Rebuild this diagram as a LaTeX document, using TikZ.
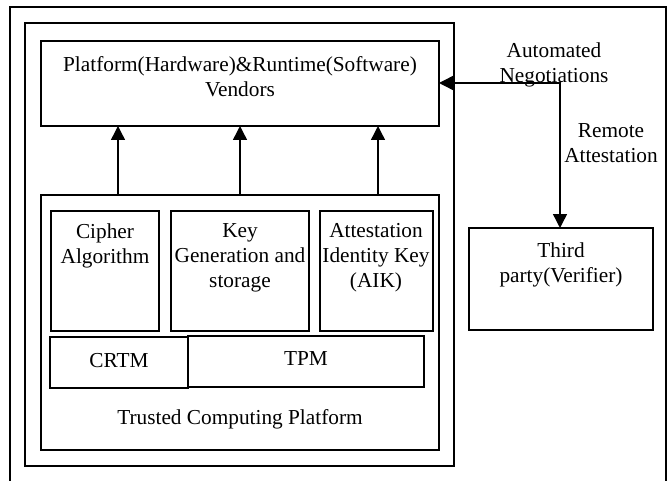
\documentclass[tikz,border=0pt]{standalone}
\usepackage{fontspec}
\setmainfont{Liberation Serif}
\usetikzlibrary{arrows.meta}
\begin{document}
\begin{tikzpicture}[x=1pt,y=-1pt, line width=1.4pt,
  box/.style={draw, inner sep=0pt, outer sep=0pt, anchor=north west},
  lbl/.style={font=\fontsize{21.3}{25}\selectfont, align=center, inner sep=0pt},
  tip/.style={-{Triangle[length=14pt,width=14pt]}},
  bothtip/.style={{Triangle[length=14pt,width=14pt]}-{Triangle[length=14pt,width=14pt]}}]
\useasboundingbox (0,0) rectangle (671,481);
% outer open frame
\draw (10,481) -- (10,7) -- (666,7) -- (666,481);
% boxes
\node[box, minimum width=429pt, minimum height=443pt] (mid) at (25,23) {};
\node[box, minimum width=398pt, minimum height=85pt] (vendor) at (41,41) {};
\node[box, minimum width=398pt, minimum height=255pt] (tcp) at (41,195) {};
\node[box, minimum width=108pt, minimum height=120pt] (cipher) at (51,211) {};
\node[box, minimum width=138pt, minimum height=120pt] (keygen) at (171,211) {};
\node[box, minimum width=113pt, minimum height=120pt] (aik) at (320,211) {};
\node[box, minimum width=138pt, minimum height=51pt] (crtm) at (50,337) {};
\node[box, minimum width=236pt, minimum height=51pt] (tpm) at (188,336) {};
\node[box, minimum width=184pt, minimum height=102pt] (third) at (469,228) {};
% texts
\node[lbl] (tvendor) at (240,76.5) {Platform(Hardware)\&Runtime(Software)\\Vendors};
\node[lbl] (tauto) at (554,65) {Automated\\Negotiations};
\node[lbl] (tremote) at (611,143.5) {Remote\\Attestation};
\node[lbl] (tcipher) at (105,246) {Cipher\\Algorithm};
\node[lbl] (tkey) at (240,258) {Key\\Generation and\\storage};
\node[lbl] (taik) at (376,258) {Attestation\\Identity Key\\(AIK)};
\node[lbl] (tthird) at (561,265) {Third\\party(Verifier)};
\node[lbl] (tcrtm) at (119,361) {CRTM};
\node[lbl] (ttpm) at (306,359) {TPM};
\node[lbl] (ttcp) at (240,419) {Trusted Computing Platform};
% arrows
\coordinate (a1) at (118,0);
\coordinate (a2) at (240,0);
\coordinate (a3) at (378,0);
\draw[tip] (a1 |- tcp.north) -- (a1 |- vendor.south);
\draw[tip] (a2 |- tcp.north) -- (a2 |- vendor.south);
\draw[tip] (a3 |- tcp.north) -- (a3 |- vendor.south);
\coordinate (n1) at (560,83);
\draw[bothtip] (third.north -| n1) -- (n1) -- (n1 -| vendor.east);
\end{tikzpicture}
\end{document}
